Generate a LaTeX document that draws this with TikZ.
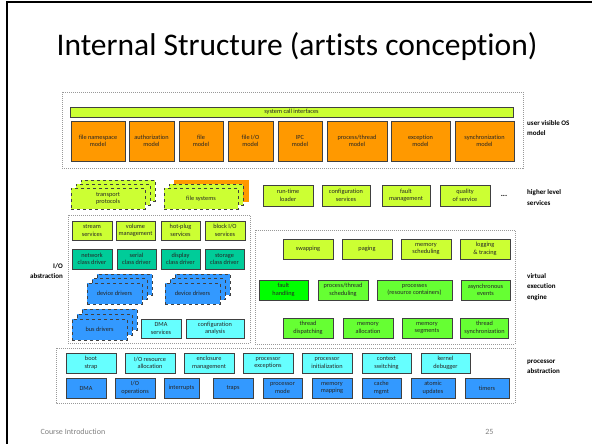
\documentclass[tikz,border=0pt]{standalone}
\usepackage{fontspec}
\setmainfont{Carlito}[RawFeature={-liga}]
\usepackage{tikz}
\usetikzlibrary{positioning}
\definecolor{MyOrange}{HTML}{FF9900}
\definecolor{MyLime}{HTML}{CCFF33}
\definecolor{MyTeal}{HTML}{00CC99}
\definecolor{MyBlue}{HTML}{3399FF}
\definecolor{MyCyan}{HTML}{66FFFF}
\definecolor{MyGreen}{HTML}{66FF33}
\definecolor{MyBright}{HTML}{00FF00}
\tikzset{
    box/.style={
      rectangle,
      draw=black!75,
      line width=0.8pt,
      inner sep=0pt,
      align=center,
      text=black!85,
      minimum height=20,
      font=\fontsize{6.3}{7.4}\selectfont
    },
    orangebox/.style={box,fill=MyOrange,minimum height=40},
    limebox/.style={box,fill=MyLime},
    tealbox/.style={box,fill=MyTeal},
    bluebox/.style={box,fill=MyBlue},
    cyanbox/.style={box,fill=MyCyan},
    greenbox/.style={box,fill=MyGreen},
    stackbox/.style={box,dashed,minimum height=21},
    groupframe/.style={draw=gray!80,dash pattern=on 1pt off 1pt,line width=0.6pt},
    layerlabel/.style={anchor=west,align=left,inner sep=0pt,
      font=\fontsize{7}{10.5}\selectfont\bfseries},
}

\begin{document}
\begin{tikzpicture}[x=1pt,y=-1pt]
    \useasboundingbox (0,0) rectangle (592,444);
    \draw[line width=2pt] (7,444) -- (7,2) -- (592,2);

    \draw (297,47) node[font=\fontsize{31.5}{37}\selectfont] (title) {Internal Structure (artists conception)};

    % user visible OS model
    \draw[groupframe] (62,92) rectangle (523,168);
    \draw (291.5,112) node[limebox,minimum width=443,minimum height=10] (sci) {system call interfaces};
    \draw (98,141) node[orangebox,minimum width=54] (fns) {file namespace\\model};
    \draw (151.5,141) node[orangebox,minimum width=45] (auth) {authorization\\model};
    \draw (201,141) node[orangebox,minimum width=44] (file) {file\\model};
    \draw (250.5,141) node[orangebox,minimum width=45] (fio) {file I/O\\model};
    \draw (300,141) node[orangebox,minimum width=44] (ipc) {IPC\\model};
    \draw (357,141) node[orangebox,minimum width=60] (proc) {process/thread\\model};
    \draw (420.5,141) node[orangebox,minimum width=59] (exc) {exception\\model};
    \draw (484.5,141) node[orangebox,minimum width=59] (sync) {synchronization\\model};
    \draw (527,128) node[layerlabel] (Luser) {user visible OS\\model};

    % higher level services
    \foreach \k in {2,1}
      \draw (108+5*\k,198.5-4*\k) node[stackbox,fill=MyLime,minimum width=74] (tp\k) {};
    \draw (108,198.5) node[stackbox,fill=MyLime,minimum width=74] (tp) {transport\\protocols};
    \draw (211,190.5) node[box,fill=MyOrange,draw=MyOrange,minimum width=74,minimum height=21] (fs2) {};
    \draw (206,194.5) node[stackbox,fill=MyLime,minimum width=74] (fs1) {};
    \draw (201,198.5) node[stackbox,fill=MyLime,minimum width=74] (fs) {file systems};
    \draw (288,195.5) node[limebox,minimum width=50,minimum height=21] (rtl) {run-time\\loader};
    \draw (346,195.5) node[limebox,minimum width=48,minimum height=21] (cfg) {configuration\\services};
    \draw (406,195.5) node[limebox,minimum width=48,minimum height=21] (fault) {fault\\management};
    \draw (465,195.5) node[limebox,minimum width=50,minimum height=21] (qos) {quality\\of service};
    \draw (504,196) node[font=\fontsize{8}{8}\selectfont\bfseries] (dots) {...};
    \draw (527,197.5) node[layerlabel] (Lhigh) {higher level\\services};

    % I/O abstraction
    \draw[groupframe] (68,215) rectangle (250,343);
    \draw (92,230.5) node[limebox,minimum width=40,minimum height=19] (stream) {stream\\services};
    \draw (135.5,230.5) node[limebox,minimum width=39,minimum height=19] (volume) {volume\\management};
    \draw (180.5,230.5) node[limebox,minimum width=39,minimum height=19] (hotplug) {hot-plug\\services};
    \draw (225,230.5) node[limebox,minimum width=40,minimum height=19] (block) {block I/O\\services};
    \draw (92,259) node[tealbox,minimum width=40] (net) {network\\class driver};
    \draw (136.5,259) node[tealbox,minimum width=39] (serial) {serial\\class driver};
    \draw (180.5,259) node[tealbox,minimum width=39] (display) {display\\class driver};
    \draw (224.5,259) node[tealbox,minimum width=39] (storage) {storage\\class driver};
    \foreach \k in {2,1} {
      \draw (114.5+5*\k,293.5-4.5*\k) node[stackbox,fill=MyBlue,minimum width=55] (dda\k) {};
      \draw (192.5+5*\k,293.5-4.5*\k) node[stackbox,fill=MyBlue,minimum width=55] (ddb\k) {};
      \draw (99.5+5*\k,329.5-5*\k) node[stackbox,fill=MyBlue,minimum width=55] (bus\k) {};
    }
    \draw (114.5,293.5) node[stackbox,fill=MyBlue,minimum width=55] (dda) {device drivers};
    \draw (192.5,293.5) node[stackbox,fill=MyBlue,minimum width=55] (ddb) {device drivers};
    \draw (99.5,329.5) node[stackbox,fill=MyBlue,minimum width=55] (bus) {bus drivers};
    \draw (161,328.5) node[cyanbox,minimum width=40,minimum height=19] (dmas) {DMA\\services};
    \draw (215,328.5) node[cyanbox,minimum width=58,minimum height=19] (cfga) {configuration\\analysis};
    \draw (63,271) node[layerlabel,anchor=east,align=right] (Lio) {I/O\\abstraction};

    % virtual execution engine
    \draw[groupframe] (255,230) rectangle (515,344);
    \draw (308,249) node[limebox,minimum width=50] (swap) {swapping};
    \draw (367,249) node[limebox,minimum width=50] (paging) {paging};
    \draw (426,249) node[limebox,minimum width=50] (msched) {memory\\scheduling};
    \draw (485,249) node[limebox,minimum width=50] (log) {logging\\\& tracing};
    \draw (283.5,290) node[box,fill=MyBright,minimum width=49] (fh) {fault\\handling};
    \draw (343,290) node[greenbox,minimum width=50] (pts) {process/thread\\scheduling};
    \draw (414.5,290) node[greenbox,minimum width=75] (prc) {processes\\(resource containers)};
    \draw (485.5,290) node[greenbox,minimum width=49] (async) {asynchronous\\events};
    \draw (308,328) node[greenbox,minimum width=50] (tdisp) {thread\\dispatching};
    \draw (368,328) node[greenbox,minimum width=50] (malloc) {memory\\allocation};
    \draw (427,328) node[greenbox,minimum width=50] (mseg) {memory\\segments};
    \draw (484.5,328) node[greenbox,minimum width=48] (tsync) {thread\\synchronization};
    \draw (527,287) node[layerlabel] (Lvee) {virtual\\execution\\engine};

    % processor abstraction
    \draw[groupframe] (56,348) rectangle (515,403);
    \draw (91,363) node[cyanbox,minimum width=50] (boot) {boot\\strap};
    \draw (150,363) node[cyanbox,minimum width=50] (iores) {I/O resource\\allocation};
    \draw (209,363) node[cyanbox,minimum width=50] (encl) {enclosure\\management};
    \draw (268,363) node[cyanbox,minimum width=50] (pexc) {processor\\exceptions};
    \draw (327,363) node[cyanbox,minimum width=50] (pinit) {processor\\initialization};
    \draw (386.5,363) node[cyanbox,minimum width=49] (ctx) {context\\switching};
    \draw (445.5,363) node[cyanbox,minimum width=49] (kdbg) {kernel\\debugger};
    \draw (86,388) node[bluebox,minimum width=40] (dma) {DMA};
    \draw (135,388) node[bluebox,minimum width=40] (ioop) {I/O\\operations};
    \draw (181.5,388) node[bluebox,minimum width=35] (intr) {interrupts};
    \draw (233,388) node[bluebox,minimum width=40] (traps) {traps};
    \draw (282.5,388) node[bluebox,minimum width=39] (pmode) {processor\\mode};
    \draw (332,388) node[bluebox,minimum width=40] (mmap) {memory\\mapping};
    \draw (381.5,388) node[bluebox,minimum width=39] (cache) {cache\\mgmt};
    \draw (433,388) node[bluebox,minimum width=44] (atom) {atomic\\updates};
    \draw (487,388) node[bluebox,minimum width=44] (timers) {timers};
    \draw (527,367) node[layerlabel] (Lproc) {processor\\abstraction};

    \draw (37,432) node[anchor=west,text=gray,font=\fontsize{8}{9}\selectfont] (course) {Course Introduction};
    \draw (497,432) node[anchor=east,text=gray,font=\fontsize{8}{9}\selectfont] (page) {25};
\end{tikzpicture}
\end{document}
